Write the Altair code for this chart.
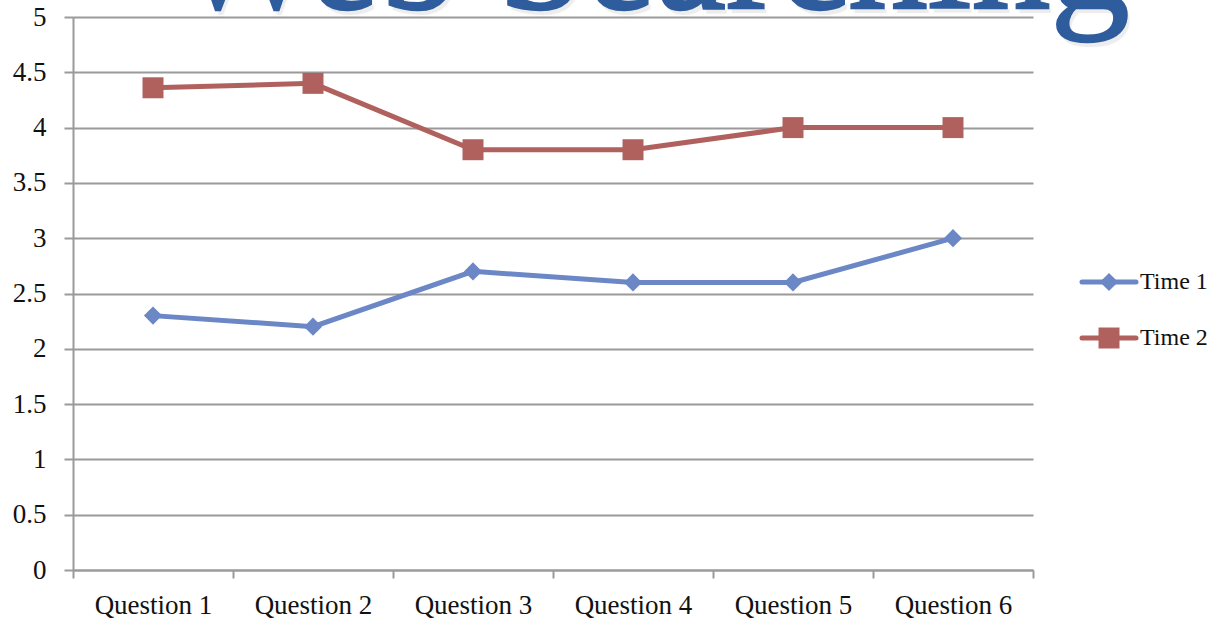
import altair as alt
import pandas as pd

# Survey results: mean score per question at two points in time
questions = ["Question 1", "Question 2", "Question 3", "Question 4", "Question 5", "Question 6"]
series = ["Time 1", "Time 2"]
time1 = [2.3, 2.2, 2.7, 2.6, 2.6, 3.0]
time2 = [4.36, 4.4, 3.8, 3.8, 4.0, 4.0]
y_ticks = [0, 0.5, 1, 1.5, 2, 2.5, 3, 3.5, 4, 4.5, 5]
title_text = "Web Searching"

colors = ["#6B87C6", "#B0615E"]
shapes = ["diamond", "square"]
FONT = "Palatino Linotype, Book Antiqua, Palatino, Liberation Serif, serif"

rows = []
for name, vals in zip(series, [time1, time2]):
    for q, v in zip(questions, vals):
        rows.append({"question": q, "series": name, "value": v})
df = pd.DataFrame(rows)
legend_df = pd.DataFrame({"series": series})
title_df = pd.DataFrame({"t": [title_text]})

color = alt.Color("series:N", scale=alt.Scale(domain=series, range=colors), legend=None)
shape = alt.Shape("series:N", scale=alt.Scale(domain=series, range=shapes), legend=None)
size = alt.Size("series:N", scale=alt.Scale(domain=series, range=[330, 440]), legend=None)

x = alt.X(
    "question:N",
    sort=questions,
    bandPosition=0.5,
    scale=alt.Scale(type="band", paddingInner=0, paddingOuter=0),
    axis=alt.Axis(
        title=None, labelAngle=0, tickBand="extent", tickSize=8, tickWidth=2,
        tickColor="#9a9a9a", domainColor="#9a9a9a", domainWidth=2,
        labelFont=FONT, labelFontSize=27, labelColor="#111111", labelPadding=14,
        grid=False,
    ),
)
y = alt.Y(
    "value:Q",
    scale=alt.Scale(domain=[0, 5], nice=False),
    axis=alt.Axis(
        title=None, values=y_ticks, format=".1~f", tickSize=9, tickWidth=2, tickColor="#9a9a9a",
        domainColor="#9a9a9a", domainWidth=2, gridColor="#9a9a9a", gridWidth=2,
        labelFont=FONT, labelFontSize=27, labelColor="#111111", labelPadding=18,
    ),
)

base = alt.Chart(df)
lines = base.mark_line(strokeWidth=5).encode(x=x, y=y, color=color)
points = base.mark_point(filled=True, opacity=1).encode(x=x, y=y, color=color, shape=shape, size=size)

# Large slide heading, partly above the drawing area, with a soft shadow
title_shadow = alt.Chart(title_df).mark_text(
    font="Liberation Serif", fontSize=158, color="#8a8a8a", opacity=0.15,
    stroke="#8a8a8a", strokeWidth=3, strokeOpacity=0.1,
    align="center", baseline="alphabetic",
).encode(text="t:N", x=alt.value(581), y=alt.value(-4))
title = alt.Chart(title_df).mark_text(
    font="Liberation Serif", fontSize=158, color="#2E5C9C",
    stroke="#2E5C9C", strokeWidth=2.5,
    align="center", baseline="alphabetic",
).encode(text="t:N", x=alt.value(578), y=alt.value(-9))

# Legend built from the series list on its own point scale
ly = alt.Y("series:N", scale=alt.Scale(type="point", domain=series, range=[265, 321], padding=0), axis=None)
leg = alt.Chart(legend_df)
leg_rule = leg.mark_rule(strokeWidth=5, strokeCap="round").encode(
    y=ly, x=alt.value(1009), x2=alt.value(1063), color=color)
leg_pts = leg.mark_point(filled=True, opacity=1).encode(
    y=ly, x=alt.value(1036), color=color, shape=shape, size=size)
leg_txt = leg.mark_text(font=FONT, fontSize=24, align="left", baseline="middle", color="#111111").encode(
    y=ly, x=alt.value(1067), text="series:N")

chart = alt.layer(
    alt.layer(title_shadow, title, lines, points),
    alt.layer(leg_rule, leg_pts, leg_txt),
).resolve_scale(y="independent").properties(
    width=960, height=553,
    autosize=alt.AutoSizeParams(type="none"),
    padding={"left": 73, "top": 17, "right": 189, "bottom": 50},
    background="white",
).configure_view(stroke=None)

chart.save("out.html", embed_options={"renderer": "svg", "actions": False})
